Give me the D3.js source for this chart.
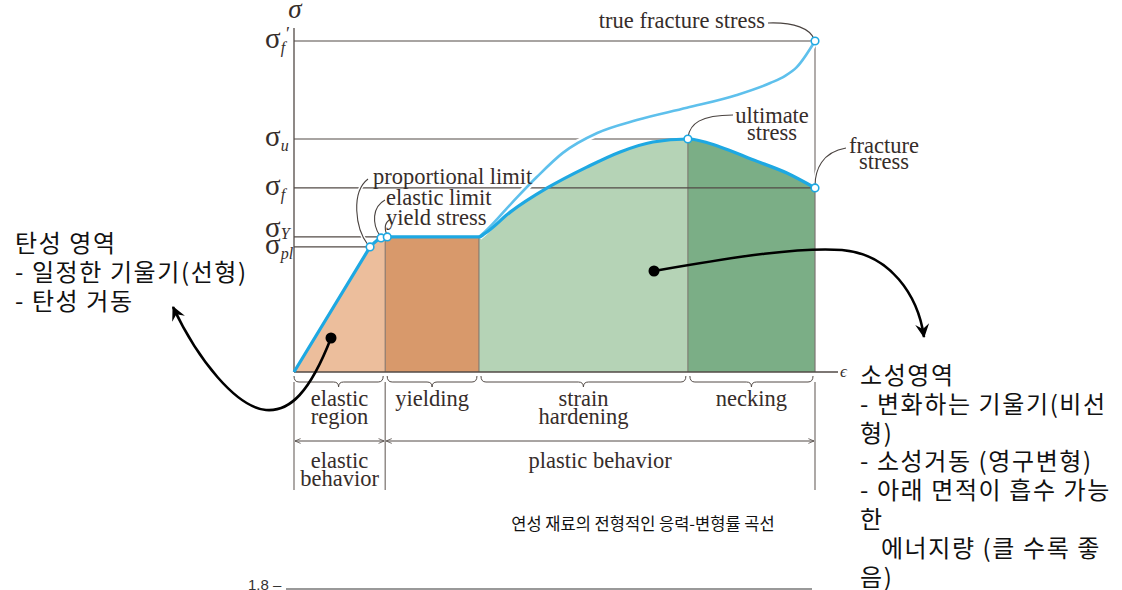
<!DOCTYPE html>
<html>
<head>
<meta charset="utf-8">
<script src="https://cdn.jsdelivr.net/npm/d3@7"></script>
<style>
    body { margin: 0; background: #fff; }
    svg { display: block; }
    .serif { font-family: "Liberation Serif", "DejaVu Serif", serif; fill: #362d2a; }
    .kr { font-family: "Noto Sans CJK KR", sans-serif; fill: #111; }
</style>
</head>
<body>
<div id="chart"></div>
<script>
// stress levels on the sigma axis (stress as % of true fracture stress)
const levelSubs = ["f", "u", "f", "Y", "pl"];
const levelPrime = [true, false, false, false, false];
const levelStress = [100, 70.4, 55.6, 40.8, 37.8];
// strain where each level line stops (the point it belongs to)
const levelStrainEnd = [100, 75.6, 100, 17.9, 14.6];

// engineering stress-strain curve
const engStrain = [0, 14.6, 16.7, 17.9, 35.5, 36.5, 41.5, 48.6, 56.2, 62.6, 68.9, 75.6, 81.8, 88.1, 94.6, 100];
const engStress = [0, 37.8, 40.5, 40.8, 40.8, 41.7, 48.3, 55.6, 61.9, 66.5, 69.5, 70.4, 68.0, 64.1, 60.1, 55.6];

// true stress-strain curve (branches off after yielding)
const trueStrain = [35.5, 36.6, 42.0, 46.6, 51.6, 58.2, 65.8, 75.4, 85.0, 91.4, 94.2, 96.5, 100];
const trueStress = [40.8, 42.3, 51.4, 58.9, 66.2, 72.2, 76.1, 79.8, 83.7, 87.3, 89.4, 92.1, 100];

// marked points: proportional limit, elastic limit, yield stress, ultimate, fracture, true fracture
const markStrain = [14.6, 16.7, 17.9, 75.6, 100, 100];
const markStress = [37.8, 40.5, 40.8, 70.4, 55.6, 100];

// regions under the curve
const regionLabels = [["elastic", "region"], ["yielding"], ["strain", "hardening"], ["necking"]];
const regionStart = [0, 17.5, 35.5, 75.6];
const regionEnd = [17.5, 35.5, 75.6, 100];
const regionColors = ["#ecbe9c", "#d8996b", "#b5d3b6", "#7bae86"];

const behaviorLabels = [["elastic", "behavior"], ["plastic behavior"]];
const behaviorStart = [0, 17.5];
const behaviorEnd = [17.5, 100];

const leftNote = ["탄성 영역", "- 일정한 기울기(선형)", "- 탄성 거동"];
const rightNote = ["소성영역", "- 변화하는 기울기(비선", "형)", "- 소성거동 (영구변형)", "- 아래 면적이 흡수 가능", "한", "   에너지량 (클 수록 좋", "음)"];
const caption = "연성 재료의 전형적인 응력-변형률 곡선";

const width = 1122, height = 590;
const x = d3.scaleLinear().domain([0, 100]).range([294, 815]);
const y = d3.scaleLinear().domain([0, 100]).range([372, 41]);

const lineColor = "#524a46";
const blue = "#1ea8e2";
const lightBlue = "#5ec0ec";

const svg = d3.select("#chart").append("svg")
    .attr("width", width)
    .attr("height", height)
    .attr("viewBox", [0, 0, width, height]);

const defs = svg.append("defs");

const engPts = engStrain.map((s, i) => [s, engStress[i]]);
const truePts = trueStrain.map((s, i) => [s, trueStress[i]]);

const straight = d3.line().x(d => x(d[0])).y(d => y(d[1]));
const smooth = d3.line().x(d => x(d[0])).y(d => y(d[1])).curve(d3.curveMonotoneX);

// linear elastic part, then smooth curve from proportional limit on
const engPath = straight(engPts.slice(0, 2)) + smooth(engPts.slice(1)).replace(/^M/, "L");
const areaPath = engPath + `L${x(100)},${y(0)}L${x(0)},${y(0)}Z`;

defs.append("clipPath").attr("id", "clip-area")
    .append("path").attr("d", areaPath);

regionStart.forEach((s, i) => {
    defs.append("clipPath").attr("id", "clip-r" + i)
        .append("rect")
        .attr("x", x(s)).attr("y", 0)
        .attr("width", x(regionEnd[i]) - x(s)).attr("height", height);
    svg.append("path")
        .attr("d", areaPath)
        .attr("fill", regionColors[i])
        .attr("clip-path", `url(#clip-r${i})`);
});

// separators between regions, cut by the curve
svg.append("g")
    .attr("clip-path", "url(#clip-area)")
    .selectAll("line")
    .data(regionEnd.slice(0, 3))
    .join("line")
    .attr("x1", d => x(d)).attr("x2", d => x(d))
    .attr("y1", y(100)).attr("y2", y(0))
    .attr("stroke", "#7a706a")
    .attr("stroke-width", 1);

// level lines
levelStress.forEach((v, i) => {
    svg.append("line")
        .attr("x1", x(0)).attr("x2", x(levelStrainEnd[i]))
        .attr("y1", y(v)).attr("y2", y(v))
        .attr("stroke", lineColor)
        .attr("stroke-width", 1.2);
});

// fracture strain line
svg.append("line")
    .attr("x1", x(100)).attr("x2", x(100))
    .attr("y1", y(100)).attr("y2", y(0))
    .attr("stroke", "#7c7572")
    .attr("stroke-width", 1.2);

// axes
svg.append("line")
    .attr("x1", x(0)).attr("x2", x(0))
    .attr("y1", 28).attr("y2", y(0))
    .attr("stroke", lineColor).attr("stroke-width", 1.3);
svg.append("line")
    .attr("x1", x(0)).attr("x2", 838)
    .attr("y1", y(0)).attr("y2", y(0))
    .attr("stroke", lineColor).attr("stroke-width", 1.3);

// true curve with white casing
svg.append("path").attr("d", smooth(truePts))
    .attr("fill", "none").attr("stroke", "#fff").attr("stroke-width", 7);
svg.append("path").attr("d", smooth(truePts))
    .attr("fill", "none").attr("stroke", lightBlue).attr("stroke-width", 2.6);

svg.append("path").attr("d", engPath)
    .attr("fill", "none").attr("stroke", blue).attr("stroke-width", 3.2)
    .attr("stroke-linejoin", "round");

// leader lines
const leaders = [
    "M368,245 C355,228 351,192 368,179",
    "M380,236 C372,224 372,207 385,200",
    "M387,235 C384,228 385,222 391,219",
    "M768,23 C795,22 810,29 814,39",
    "M688,137 C690,124 700,115 733,115",
    "M815,186 C815,170 822,152 846,148"
];
leaders.forEach(d => {
    svg.append("path").attr("d", d).attr("fill", "none")
        .attr("stroke", "#fff").attr("stroke-width", 4);
});
leaders.forEach(d => {
    svg.append("path").attr("d", d).attr("fill", "none")
        .attr("stroke", "#4a4340").attr("stroke-width", 1.1);
});

svg.append("g")
    .selectAll("circle")
    .data(markStrain.map((s, i) => [s, markStress[i]]))
    .join("circle")
    .attr("cx", d => x(d[0])).attr("cy", d => y(d[1]))
    .attr("r", 3.8)
    .attr("fill", "#fff")
    .attr("stroke", blue)
    .attr("stroke-width", 1.6);

// sigma labels (sigma_Y sits above its line, the others straddle it)
const sig = svg.append("g").attr("class", "serif");
levelStress.forEach((v, i) => {
    const t = sig.append("text")
        .attr("x", 265)
        .attr("y", y(v) + (levelSubs[i] === "Y" ? 0 : 7))
        .attr("font-size", 29);
    t.append("tspan").text("σ");
    t.append("tspan").attr("font-size", 16).attr("font-style", "italic")
        .attr("dy", levelSubs[i] === "Y" ? 2 : 5).text(levelSubs[i]);
    if (levelPrime[i]) {
        t.append("tspan").attr("font-size", 18).attr("dx", 1).attr("dy", -13).text("′");
    }
});
sig.append("text").attr("x", 295).attr("y", 18).attr("font-size", 27)
    .attr("font-style", "italic").attr("text-anchor", "middle").text("σ");
sig.append("text").attr("x", 840).attr("y", 377).attr("font-size", 17)
    .attr("font-style", "italic").text("ϵ");

// annotations
const ann = svg.append("g").attr("class", "serif").attr("font-size", 22.5);
ann.append("text").attr("x", 373).attr("y", 184).text("proportional limit");
ann.append("text").attr("x", 386).attr("y", 205).text("elastic limit");
ann.append("text").attr("x", 386).attr("y", 225).text("yield stress");
ann.append("text").attr("x", 765).attr("y", 28).attr("text-anchor", "end").text("true fracture stress");
ann.append("text").attr("x", 772).attr("y", 123).attr("text-anchor", "middle").text("ultimate");
ann.append("text").attr("x", 772).attr("y", 140).attr("text-anchor", "middle").text("stress");
ann.append("text").attr("x", 884).attr("y", 153).attr("text-anchor", "middle").text("fracture");
ann.append("text").attr("x", 884).attr("y", 169).attr("text-anchor", "middle").text("stress");

// braces below the axis
function brace(x0, x1, yb) {
    const m = (x0 + x1) / 2;
    return `M${x0},${yb - 6} Q${x0},${yb} ${x0 + 5},${yb} L${m - 5},${yb} Q${m},${yb} ${m},${yb + 5}` +
        ` Q${m},${yb} ${m + 5},${yb} L${x1 - 5},${yb} Q${x1},${yb} ${x1},${yb - 6}`;
}
const low = svg.append("g");
regionStart.forEach((s, i) => {
    low.append("path")
        .attr("d", brace(x(s) + (i ? 2 : 0), x(regionEnd[i]) - 2, 382))
        .attr("fill", "none").attr("stroke", lineColor).attr("stroke-width", 1);
    regionLabels[i].forEach((l, j) => {
        low.append("text").attr("class", "serif").attr("font-size", 22.5)
            .attr("text-anchor", "middle")
            .attr("x", (x(s) + x(regionEnd[i])) / 2)
            .attr("y", 406 + j * 17.5)
            .text(l);
    });
});

defs.append("marker").attr("id", "tip").attr("viewBox", "-8 -5 10 10")
    .attr("markerWidth", 8).attr("markerHeight", 8).attr("orient", "auto-start-reverse")
    .attr("markerUnits", "userSpaceOnUse")
    .append("path").attr("d", "M-7,-3 L0,0 L-7,3").attr("fill", "none")
    .attr("stroke", lineColor).attr("stroke-width", 1);

behaviorStart.forEach((s, i) => {
    low.append("line")
        .attr("x1", x(s) + 1).attr("x2", x(behaviorEnd[i]) - 1)
        .attr("y1", 441).attr("y2", 441)
        .attr("stroke", lineColor).attr("stroke-width", 1)
        .attr("marker-start", "url(#tip)").attr("marker-end", "url(#tip)");
    behaviorLabels[i].forEach((l, j) => {
        low.append("text").attr("class", "serif").attr("font-size", 22.5)
            .attr("text-anchor", "middle")
            .attr("x", (x(s) + x(behaviorEnd[i])) / 2)
            .attr("y", 468 + j * 17.5)
            .text(l);
    });
});
[0, 17.5, 100].forEach(v => {
    low.append("line")
        .attr("x1", x(v)).attr("x2", x(v))
        .attr("y1", 382).attr("y2", 490)
        .attr("stroke", "#6a625e").attr("stroke-width", 1.1);
});

// Korean notes with arrows
defs.append("marker").attr("id", "head").attr("viewBox", "-14 -8 16 16")
    .attr("markerWidth", 16).attr("markerHeight", 16).attr("orient", "auto")
    .attr("markerUnits", "userSpaceOnUse")
    .append("path").attr("d", "M1,0 L-13,-7 L-8,0 L-13,7 Z").attr("fill", "#000");

svg.append("path")
    .attr("d", "M331,338 C310,392 290,412 266,410 C236,407 198,360 173,307")
    .attr("fill", "none").attr("stroke", "#000").attr("stroke-width", 2.6)
    .attr("marker-end", "url(#head)");
svg.append("circle").attr("cx", 331).attr("cy", 338).attr("r", 5.5).attr("fill", "#000");

svg.append("path")
    .attr("d", "M654,271 C740,256 800,247 842,250 C890,254 918,295 924,337")
    .attr("fill", "none").attr("stroke", "#000").attr("stroke-width", 2.6)
    .attr("marker-end", "url(#head)");
svg.append("circle").attr("cx", 654).attr("cy", 271).attr("r", 5.5).attr("fill", "#000");

const kr = svg.append("g").attr("class", "kr").attr("font-size", 24)
    .attr("letter-spacing", 1.6);
leftNote.forEach((l, i) => {
    kr.append("text").attr("x", 15).attr("y", 252 + i * 29).text(l);
});
rightNote.forEach((l, i) => {
    kr.append("text").attr("x", 860).attr("y", 384 + i * 28.8)
        .attr("xml:space", "preserve").style("white-space", "pre").text(l);
});
kr.append("text").attr("x", 643).attr("y", 530).attr("font-size", 16.5)
    .attr("letter-spacing", 0).attr("text-anchor", "middle").text(caption);

// piece of the next figure at the bottom edge
svg.append("text").attr("x", 248).attr("y", 590)
    .attr("font-family", "Liberation Sans, Arial, sans-serif").attr("font-size", 15)
    .attr("fill", "#333").text("1.8 –");
svg.append("line").attr("x1", 286).attr("x2", 812).attr("y1", 589).attr("y2", 589)
    .attr("stroke", "#999").attr("stroke-width", 2);
</script>
</body>
</html>
